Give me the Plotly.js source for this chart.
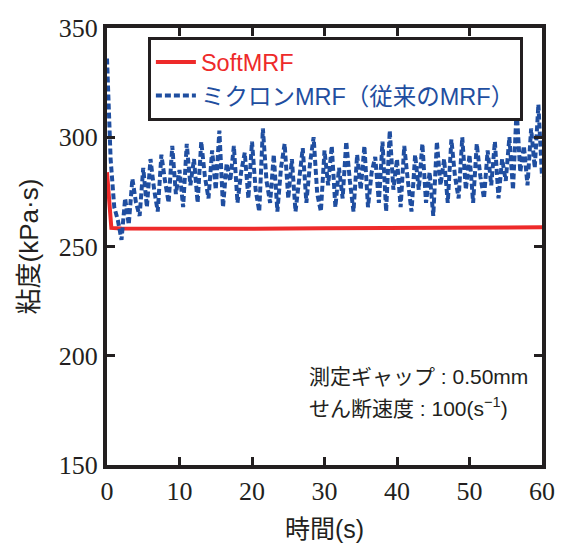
<!DOCTYPE html>
<html>
<head>
<meta charset="utf-8">
<script src="https://cdn.plot.ly/plotly-3.0.1.min.js"></script>
<style>html,body{margin:0;padding:0;background:#fff;}#chart{width:569px;height:543px;}</style>
</head>
<body>
<div id="chart"></div>
<script>
// SoftMRF (red)
const softTime = [0, 0.2, 0.6, 2, 10, 20, 30, 40, 50, 60];
const softVisc = [284, 276, 258.5, 258.2, 258.0, 258.1, 258.3, 258.4, 258.6, 258.8];

// Micron MRF (blue), sampled every 0.5 s
const micronTime = [];
for (let i = 0; i <= 120; i++) micronTime.push(i * 0.5);
const micronVisc = [
  336, 290, 268, 262, 253, 272, 260, 281, 270, 264,
  286, 268, 290, 276, 266, 292, 280, 270, 296, 274,
  285, 268, 297, 278, 290, 270, 298, 282, 272, 294,
  276, 303, 268, 288, 280, 296, 270, 284, 293, 272,
  298, 276, 266, 304, 280, 270, 292, 266, 286, 297,
  272, 290, 266, 282, 295, 270, 288, 300, 274, 266,
  294, 278, 296, 268, 286, 272, 298, 280, 266, 292,
  276, 296, 268, 284, 291, 270, 298, 266, 303, 276,
  290, 268, 296, 280, 266, 292, 276, 297, 270, 284,
  264, 298, 278, 290, 270, 299, 282, 272, 300, 276,
  292, 270, 297, 282, 272, 294, 278, 298, 272, 290,
  280, 300, 276, 313, 284, 296, 278, 304, 286, 315,
  282
];

const xTicks = [0, 10, 20, 30, 40, 50, 60];
const yTicks = [150, 200, 250, 300, 350];

const ink = '#231f20';
const red = '#ee2a2a';
const blue = '#1f4ea0';
const sans = '"Liberation Sans", "Noto Sans CJK JP", sans-serif';
const serif = '"Liberation Serif", "Times New Roman", serif';

const traces = [
  {
    x: softTime, y: softVisc, type: 'scatter', mode: 'lines',
    name: '<span style="color:' + red + '">SoftMRF</span>',
    line: {color: red, width: 4}
  },
  {
    x: micronTime, y: micronVisc, type: 'scatter', mode: 'lines',
    name: '<span style="color:' + blue + '">ミクロンMRF（従来のMRF）</span>',
    line: {color: blue, width: 4, dash: '6px,3px'}
  }
];

const axisCommon = {
  showgrid: false, zeroline: false,
  showline: true, linecolor: ink, linewidth: 4, mirror: 'ticks',
  ticks: 'inside', ticklen: 8, tickwidth: 3, tickcolor: ink,
  tickfont: {family: serif, size: 26, color: ink}
};

const layout = {
  width: 569, height: 543,
  margin: {l: 107, r: 27, t: 28, b: 78},
  paper_bgcolor: '#ffffff', plot_bgcolor: '#ffffff',
  showlegend: true,
  legend: {
    x: 0.094, y: 0.979, xanchor: 'left', yanchor: 'top',
    bgcolor: '#ffffff', bordercolor: ink, borderwidth: 3,
    font: {family: sans, size: 23.5, color: ink},
    tracegroupgap: 0, itemwidth: 40
  },
  xaxis: Object.assign({}, axisCommon, {
    range: [0, 60], tickvals: xTicks, ticktext: xTicks.map(String),
    title: {text: '時間(s)', font: {family: sans, size: 25, color: ink}, standoff: 17}
  }),
  yaxis: Object.assign({}, axisCommon, {
    range: [150, 350], tickvals: yTicks, ticktext: yTicks.map(String),
    title: {text: '粘度(kPa·s)', font: {family: sans, size: 26, color: ink}, standoff: 14}
  }),
  annotations: [
    {xref: 'paper', yref: 'paper', x: 0.46, y: 0.203, xanchor: 'left', yanchor: 'middle',
     text: '測定ギャップ : 0.50mm', showarrow: false, font: {family: sans, size: 21, color: ink}},
    {xref: 'paper', yref: 'paper', x: 0.46, y: 0.133, xanchor: 'left', yanchor: 'middle',
     text: 'せん断速度 : 100(s<sup>−1</sup>)', showarrow: false, font: {family: sans, size: 21, color: ink}}
  ]
};

Plotly.newPlot('chart', traces, layout, {displayModeBar: false, staticPlot: true});
</script>
</body>
</html>
